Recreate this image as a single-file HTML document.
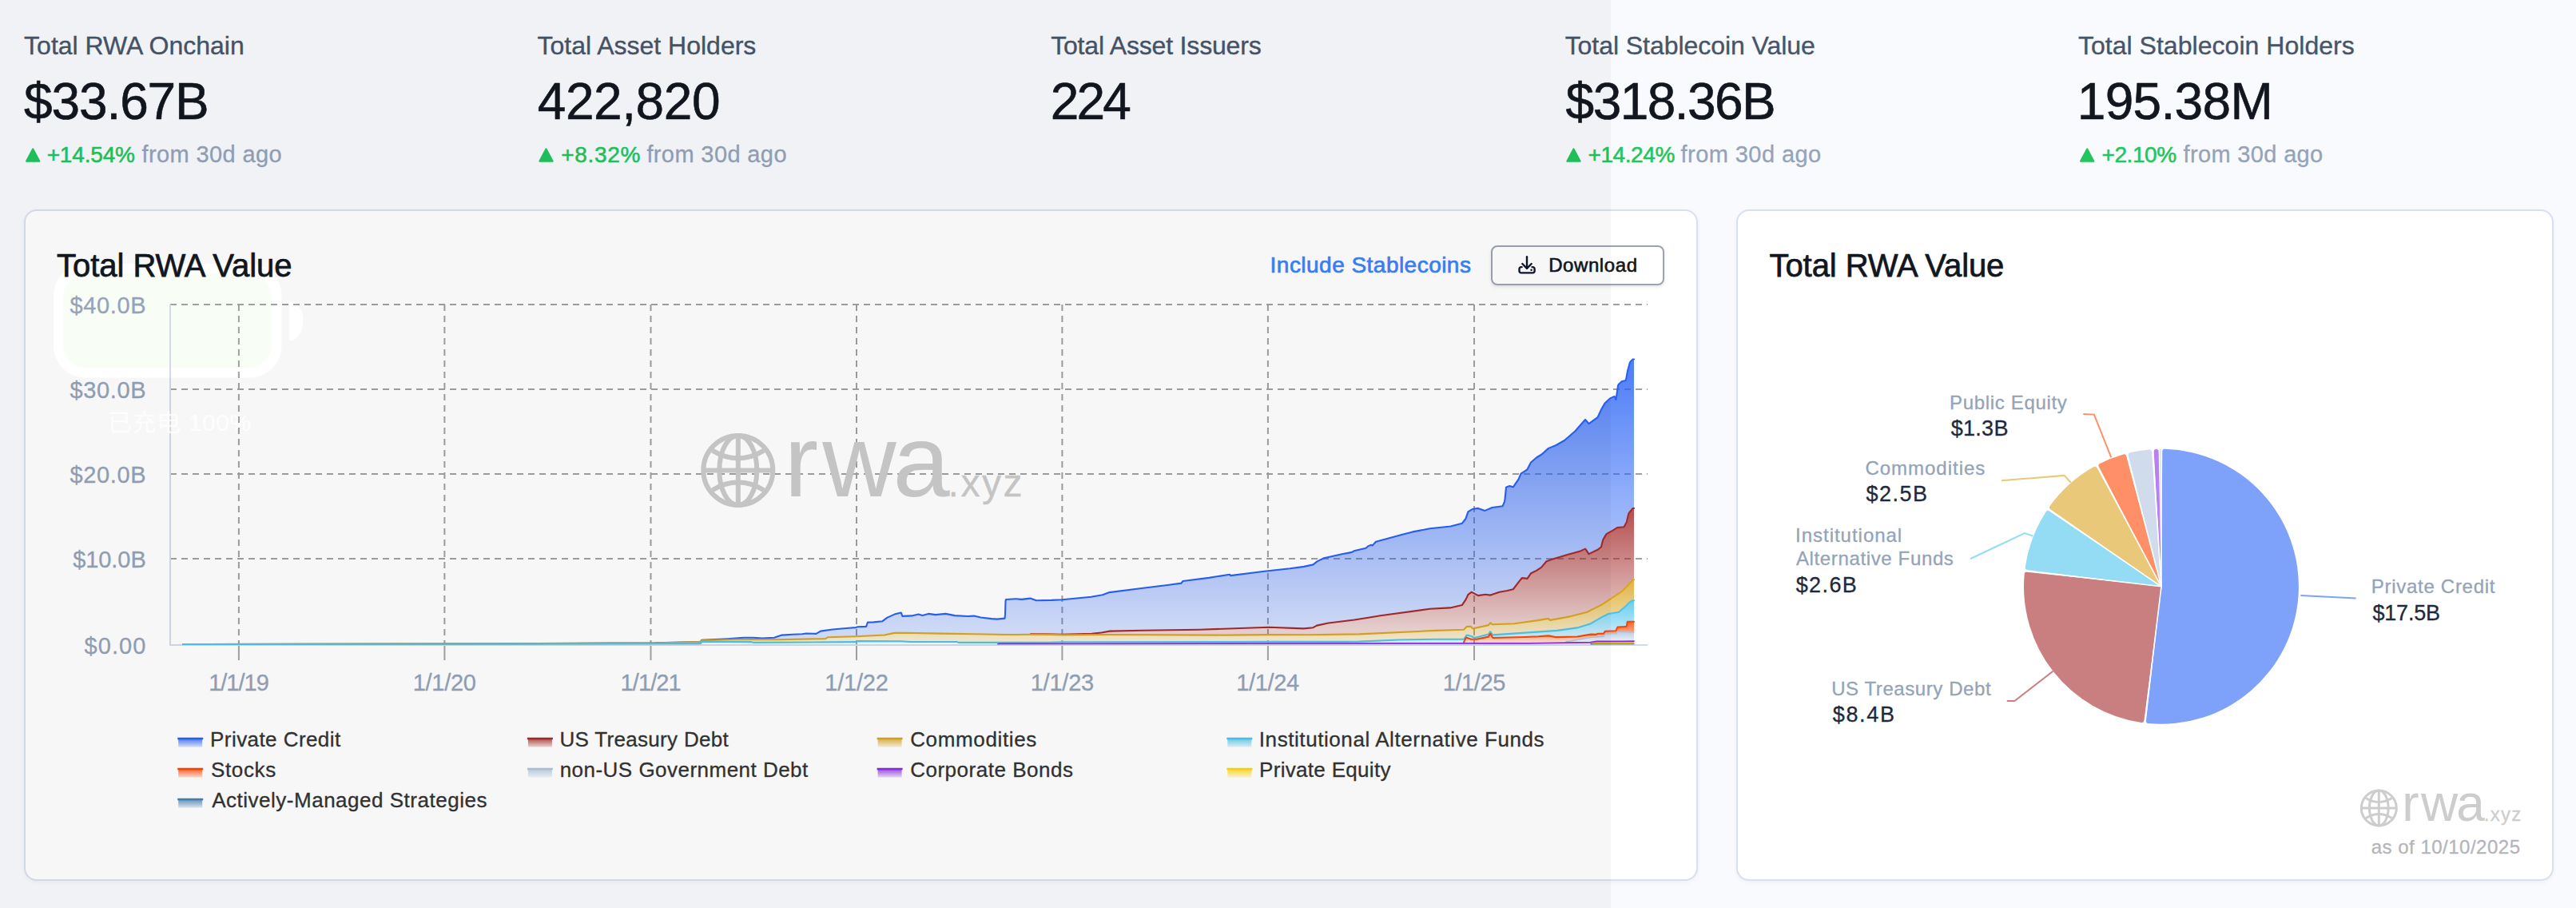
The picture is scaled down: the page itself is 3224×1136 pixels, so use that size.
<!DOCTYPE html>
<html lang="en"><head><meta charset="utf-8"><title>RWA dashboard</title>
<style>
html,body{margin:0;padding:0}
body{width:3224px;height:1136px;position:relative;overflow:hidden;background:#f9fafd;font-family:"Liberation Sans",sans-serif}
.t{position:absolute;white-space:nowrap;margin:0;padding:0}
.card{position:absolute;box-sizing:border-box;background:#fff;border:2px solid #d8dfee;border-radius:16px;box-shadow:0 2px 5px rgba(30,50,90,.05)}
svg{position:absolute;left:0;top:0;overflow:visible}
</style></head><body>

<div class="t" style="left:30.08px;top:41.11px;font-size:32px;line-height:32px;letter-spacing:0.001px;color:#475569;-webkit-text-stroke:0.35px #475569;">Total RWA Onchain</div>
<div class="t" style="left:30.11px;top:95.32px;font-size:64px;line-height:64px;letter-spacing:-1.129px;color:#12161f;-webkit-text-stroke:0.6px #12161f;">$33.67B</div>
<div class="t" style="left:58.63px;top:180.30px;font-size:28px;line-height:28px;letter-spacing:-0.159px;color:#22c55e;-webkit-text-stroke:0.55px #22c55e;">+14.54%</div>
<div class="t" style="left:177.59px;top:179.45px;font-size:29px;line-height:29px;letter-spacing:0.386px;color:#94a3b8;-webkit-text-stroke:0.3px #94a3b8;">from 30d ago</div>
<div class="t" style="left:672.48px;top:41.11px;font-size:32px;line-height:32px;letter-spacing:-0.002px;color:#475569;-webkit-text-stroke:0.35px #475569;">Total Asset Holders</div>
<div class="t" style="left:672.83px;top:95.32px;font-size:64px;line-height:64px;letter-spacing:-0.446px;color:#12161f;-webkit-text-stroke:0.6px #12161f;">422,820</div>
<div class="t" style="left:702.23px;top:180.30px;font-size:28px;line-height:28px;letter-spacing:0.664px;color:#22c55e;-webkit-text-stroke:0.55px #22c55e;">+8.32%</div>
<div class="t" style="left:809.39px;top:179.45px;font-size:29px;line-height:29px;letter-spacing:0.386px;color:#94a3b8;-webkit-text-stroke:0.3px #94a3b8;">from 30d ago</div>
<div class="t" style="left:1315.18px;top:41.11px;font-size:32px;line-height:32px;letter-spacing:-0.184px;color:#475569;-webkit-text-stroke:0.35px #475569;">Total Asset Issuers</div>
<div class="t" style="left:1314.78px;top:95.32px;font-size:64px;line-height:64px;letter-spacing:-2.844px;color:#12161f;-webkit-text-stroke:0.6px #12161f;">224</div>
<div class="t" style="left:1958.68px;top:41.11px;font-size:32px;line-height:32px;letter-spacing:-0.054px;color:#475569;-webkit-text-stroke:0.35px #475569;">Total Stablecoin Value</div>
<div class="t" style="left:1959.61px;top:95.32px;font-size:64px;line-height:64px;letter-spacing:-1.567px;color:#12161f;-webkit-text-stroke:0.6px #12161f;">$318.36B</div>
<div class="t" style="left:1987.53px;top:180.30px;font-size:28px;line-height:28px;letter-spacing:-0.425px;color:#22c55e;-webkit-text-stroke:0.55px #22c55e;">+14.24%</div>
<div class="t" style="left:2103.59px;top:179.45px;font-size:29px;line-height:29px;letter-spacing:0.431px;color:#94a3b8;-webkit-text-stroke:0.3px #94a3b8;">from 30d ago</div>
<div class="t" style="left:2600.88px;top:41.11px;font-size:32px;line-height:32px;letter-spacing:0.035px;color:#475569;-webkit-text-stroke:0.35px #475569;">Total Stablecoin Holders</div>
<div class="t" style="left:2599.82px;top:95.32px;font-size:64px;line-height:64px;letter-spacing:-0.690px;color:#12161f;-webkit-text-stroke:0.6px #12161f;">195.38M</div>
<div class="t" style="left:2630.43px;top:180.30px;font-size:28px;line-height:28px;letter-spacing:-0.396px;color:#22c55e;-webkit-text-stroke:0.55px #22c55e;">+2.10%</div>
<div class="t" style="left:2732.59px;top:179.45px;font-size:29px;line-height:29px;letter-spacing:0.340px;color:#94a3b8;-webkit-text-stroke:0.3px #94a3b8;">from 30d ago</div>
<div class="card" style="left:30px;top:262px;width:2095px;height:840px"></div>
<div class="card" style="left:2173px;top:262px;width:1023px;height:840px"></div>
<svg width="3224" height="1136" viewBox="0 0 3224 1136"><rect x="79" y="342" width="261" height="118.5" rx="30" fill="#f8fdf6"/></svg>
<svg width="3224" height="1136" viewBox="0 0 3224 1136">
<path d="M41.2 186.3 L49.4 201.8 L33.0 201.8 Z" fill="#22c55e" stroke="#22c55e" stroke-width="2" stroke-linejoin="round"/>
<path d="M683.5 186.3 L691.7 201.8 L675.3 201.8 Z" fill="#22c55e" stroke="#22c55e" stroke-width="2" stroke-linejoin="round"/>
<path d="M1969.5 186.3 L1977.7 201.8 L1961.3 201.8 Z" fill="#22c55e" stroke="#22c55e" stroke-width="2" stroke-linejoin="round"/>
<path d="M2612.2 186.3 L2620.4 201.8 L2604.0 201.8 Z" fill="#22c55e" stroke="#22c55e" stroke-width="2" stroke-linejoin="round"/>
<defs>
<linearGradient id="g_blue" x1="0" y1="0" x2="0" y2="1"><stop offset="5%" stop-color="#2862f5" stop-opacity="0.8"/><stop offset="95%" stop-color="#2862f5" stop-opacity="0.2"/></linearGradient>
<linearGradient id="g_red" x1="0" y1="0" x2="0" y2="1"><stop offset="5%" stop-color="#a52a2a" stop-opacity="0.8"/><stop offset="95%" stop-color="#a52a2a" stop-opacity="0.2"/></linearGradient>
<linearGradient id="g_yellow" x1="0" y1="0" x2="0" y2="1"><stop offset="5%" stop-color="#daa520" stop-opacity="0.8"/><stop offset="95%" stop-color="#daa520" stop-opacity="0.2"/></linearGradient>
<linearGradient id="g_cyan" x1="0" y1="0" x2="0" y2="1"><stop offset="5%" stop-color="#4cc4ec" stop-opacity="0.8"/><stop offset="95%" stop-color="#4cc4ec" stop-opacity="0.2"/></linearGradient>
<linearGradient id="g_orange" x1="0" y1="0" x2="0" y2="1"><stop offset="5%" stop-color="#ff4500" stop-opacity="0.8"/><stop offset="95%" stop-color="#ff4500" stop-opacity="0.2"/></linearGradient>
<linearGradient id="g_steel" x1="0" y1="0" x2="0" y2="1"><stop offset="5%" stop-color="#b0c4de" stop-opacity="0.8"/><stop offset="95%" stop-color="#b0c4de" stop-opacity="0.2"/></linearGradient>
<linearGradient id="g_purple" x1="0" y1="0" x2="0" y2="1"><stop offset="5%" stop-color="#8a2be2" stop-opacity="0.8"/><stop offset="95%" stop-color="#8a2be2" stop-opacity="0.2"/></linearGradient>
<linearGradient id="g_gold" x1="0" y1="0" x2="0" y2="1"><stop offset="5%" stop-color="#ffd700" stop-opacity="0.8"/><stop offset="95%" stop-color="#ffd700" stop-opacity="0.2"/></linearGradient>
<linearGradient id="g_sblue" x1="0" y1="0" x2="0" y2="1"><stop offset="5%" stop-color="#4682b4" stop-opacity="0.8"/><stop offset="95%" stop-color="#4682b4" stop-opacity="0.2"/></linearGradient>
</defs>
<line x1="213" y1="381" x2="2062" y2="381" stroke="#a0a0a0" stroke-width="2" stroke-dasharray="8 6"/>
<line x1="213" y1="487" x2="2062" y2="487" stroke="#a0a0a0" stroke-width="2" stroke-dasharray="8 6"/>
<line x1="213" y1="593" x2="2062" y2="593" stroke="#a0a0a0" stroke-width="2" stroke-dasharray="8 6"/>
<line x1="213" y1="699" x2="2062" y2="699" stroke="#a0a0a0" stroke-width="2" stroke-dasharray="8 6"/>
<line x1="298.9" y1="381" x2="298.9" y2="807" stroke="#a0a0a0" stroke-width="2" stroke-dasharray="8 6"/>
<line x1="298.9" y1="807" x2="298.9" y2="826" stroke="#a4a4a4" stroke-width="2"/>
<line x1="556.4" y1="381" x2="556.4" y2="807" stroke="#a0a0a0" stroke-width="2" stroke-dasharray="8 6"/>
<line x1="556.4" y1="807" x2="556.4" y2="826" stroke="#a4a4a4" stroke-width="2"/>
<line x1="814.5" y1="381" x2="814.5" y2="807" stroke="#a0a0a0" stroke-width="2" stroke-dasharray="8 6"/>
<line x1="814.5" y1="807" x2="814.5" y2="826" stroke="#a4a4a4" stroke-width="2"/>
<line x1="1072.0" y1="381" x2="1072.0" y2="807" stroke="#a0a0a0" stroke-width="2" stroke-dasharray="8 6"/>
<line x1="1072.0" y1="807" x2="1072.0" y2="826" stroke="#a4a4a4" stroke-width="2"/>
<line x1="1329.4" y1="381" x2="1329.4" y2="807" stroke="#a0a0a0" stroke-width="2" stroke-dasharray="8 6"/>
<line x1="1329.4" y1="807" x2="1329.4" y2="826" stroke="#a4a4a4" stroke-width="2"/>
<line x1="1586.9" y1="381" x2="1586.9" y2="807" stroke="#a0a0a0" stroke-width="2" stroke-dasharray="8 6"/>
<line x1="1586.9" y1="807" x2="1586.9" y2="826" stroke="#a4a4a4" stroke-width="2"/>
<line x1="1845.0" y1="381" x2="1845.0" y2="807" stroke="#a0a0a0" stroke-width="2" stroke-dasharray="8 6"/>
<line x1="1845.0" y1="807" x2="1845.0" y2="826" stroke="#a4a4a4" stroke-width="2"/>
<path d="M213 381 V807 H2062" fill="none" stroke="#d2d9ea" stroke-width="2"/>
<g fill="none" stroke="#cbcbcb" stroke-width="6"><circle cx="923.8" cy="588.4" r="43.5"/><ellipse cx="923.8" cy="588.4" rx="23.49" ry="43.5"/><line x1="923.8" y1="544.9" x2="923.8" y2="631.9"/><line x1="880.3" y1="588.4" x2="967.3" y2="588.4"/><path d="M891.61 563.61 Q923.8 583.18 955.99 563.61"/><path d="M891.61 613.19 Q923.8 593.62 955.99 613.19"/></g>
<text x="981.50" y="620.5" font-family='"Liberation Sans", sans-serif' font-size="128" fill="#cbcbcb">r<tspan dx="5">w</tspan><tspan dx="-4">a</tspan></text>
<text x="1186.62" y="620.5" font-family='"Liberation Sans", sans-serif' font-size="48" letter-spacing="2.479" fill="#cbcbcb" stroke="#cbcbcb" stroke-width="0.3">.xyz</text>
<path d="M229.0 806.0 L626.0 805.3 L820.5 804.4 L865.0 803.2 L877.0 803.1 L877.5 801.8 L878.0 800.9 L910.5 799.2 L930.5 797.8 L942.5 797.8 L954.0 798.5 L969.0 797.7 L978.5 794.6 L992.0 793.7 L1004.0 793.2 L1009.0 792.5 L1021.5 792.9 L1027.0 789.6 L1042.0 787.5 L1062.0 785.7 L1071.0 785.1 L1073.5 784.3 L1084.0 783.9 L1084.5 782.8 L1085.5 779.7 L1086.0 778.6 L1093.5 778.4 L1104.5 777.2 L1110.5 772.6 L1119.5 768.6 L1127.5 766.5 L1128.0 766.9 L1129.0 770.0 L1129.5 770.9 L1141.0 770.4 L1149.5 768.5 L1154.5 770.0 L1162.0 767.9 L1171.0 769.1 L1183.5 767.9 L1195.0 770.1 L1211.0 771.0 L1219.0 770.6 L1227.5 772.5 L1241.0 774.1 L1248.0 774.6 L1257.5 773.6 L1258.0 768.9 L1258.5 752.4 L1259.0 750.0 L1271.5 749.2 L1278.5 749.9 L1289.5 748.6 L1297.0 751.2 L1316.0 750.9 L1329.5 750.3 L1365.5 746.8 L1380.0 744.2 L1388.5 741.1 L1430.5 735.7 L1463.0 731.8 L1478.5 729.6 L1480.5 727.0 L1513.0 722.9 L1539.0 718.7 L1540.0 720.1 L1582.5 714.7 L1614.5 711.3 L1632.0 708.9 L1643.5 706.4 L1648.5 702.4 L1657.0 698.2 L1679.5 693.3 L1692.0 690.9 L1694.5 689.3 L1709.5 685.7 L1712.0 683.4 L1716.0 681.8 L1716.5 681.8 L1717.5 682.5 L1719.0 681.0 L1722.0 677.7 L1756.0 668.6 L1768.0 665.4 L1789.5 661.3 L1815.5 658.5 L1830.0 654.7 L1834.0 649.5 L1834.5 648.7 L1837.5 640.2 L1843.5 636.7 L1850.0 635.9 L1858.5 638.9 L1867.5 635.0 L1880.5 633.2 L1881.5 631.2 L1883.0 627.7 L1883.5 624.6 L1885.0 609.6 L1886.5 609.0 L1889.5 608.1 L1893.5 609.3 L1894.0 609.2 L1900.5 599.6 L1903.5 592.7 L1911.5 587.3 L1916.0 578.5 L1923.0 572.5 L1929.5 568.5 L1938.0 560.9 L1947.5 557.0 L1958.0 551.0 L1971.5 539.2 L1984.0 525.0 L1984.5 525.3 L1988.5 530.1 L1999.5 522.2 L2004.0 512.4 L2008.5 504.5 L2015.0 498.4 L2020.5 495.9 L2021.0 496.5 L2022.0 499.0 L2022.5 499.9 L2025.0 482.4 L2025.5 481.3 L2029.5 477.3 L2034.5 476.0 L2035.0 474.9 L2037.0 464.1 L2040.0 453.4 L2041.0 452.1 L2043.5 449.6 L2045.0 449.5 L2045.0 635.9 L2043.5 636.0 L2038.5 642.2 L2038.0 643.8 L2036.0 652.2 L2035.5 653.8 L2032.5 659.2 L2024.0 660.1 L2018.5 663.6 L2010.5 668.1 L2006.5 674.9 L2006.0 676.2 L2004.0 684.2 L2000.0 687.5 L1988.5 693.1 L1985.0 687.8 L1984.0 686.6 L1978.0 689.4 L1962.5 693.7 L1942.5 699.8 L1935.5 702.2 L1929.0 709.9 L1923.0 713.9 L1916.0 717.3 L1911.5 723.9 L1905.0 723.1 L1904.5 723.5 L1901.5 727.1 L1894.0 737.0 L1893.5 737.3 L1886.5 739.0 L1876.5 740.7 L1865.5 744.6 L1859.0 743.8 L1850.0 745.1 L1842.0 740.8 L1841.5 740.9 L1837.5 743.8 L1834.5 750.1 L1830.0 756.9 L1815.0 760.4 L1789.5 761.8 L1727.5 770.3 L1712.5 772.8 L1695.0 775.5 L1662.5 779.5 L1648.0 782.6 L1643.5 785.2 L1631.5 786.4 L1588.0 784.8 L1501.0 787.7 L1430.5 788.7 L1389.0 789.6 L1378.5 791.5 L1366.5 792.7 L1328.5 793.9 L1309.0 793.2 L1282.5 793.4 L1250.0 793.5 L1191.5 792.6 L1131.5 791.7 L1119.5 791.9 L1107.0 794.5 L1071.0 796.2 L1036.0 797.3 L1033.0 799.1 L973.5 800.2 L941.0 800.1 L916.5 800.2 L878.0 801.2 L877.5 802.0 L877.0 803.1 L864.5 803.2 L819.5 804.6 L629.0 805.5 L229.0 806.0 Z" fill="url(#g_blue)" stroke="none"/>
<path d="M229.0 806.0 L626.0 805.3 L820.5 804.4 L865.0 803.2 L877.0 803.1 L877.5 801.8 L878.0 800.9 L910.5 799.2 L930.5 797.8 L942.5 797.8 L954.0 798.5 L969.0 797.7 L978.5 794.6 L992.0 793.7 L1004.0 793.2 L1009.0 792.5 L1021.5 792.9 L1027.0 789.6 L1042.0 787.5 L1062.0 785.7 L1071.0 785.1 L1073.5 784.3 L1084.0 783.9 L1084.5 782.8 L1085.5 779.7 L1086.0 778.6 L1093.5 778.4 L1104.5 777.2 L1110.5 772.6 L1119.5 768.6 L1127.5 766.5 L1128.0 766.9 L1129.0 770.0 L1129.5 770.9 L1141.0 770.4 L1149.5 768.5 L1154.5 770.0 L1162.0 767.9 L1171.0 769.1 L1183.5 767.9 L1195.0 770.1 L1211.0 771.0 L1219.0 770.6 L1227.5 772.5 L1241.0 774.1 L1248.0 774.6 L1257.5 773.6 L1258.0 768.9 L1258.5 752.4 L1259.0 750.0 L1271.5 749.2 L1278.5 749.9 L1289.5 748.6 L1297.0 751.2 L1316.0 750.9 L1329.5 750.3 L1365.5 746.8 L1380.0 744.2 L1388.5 741.1 L1430.5 735.7 L1463.0 731.8 L1478.5 729.6 L1480.5 727.0 L1513.0 722.9 L1539.0 718.7 L1540.0 720.1 L1582.5 714.7 L1614.5 711.3 L1632.0 708.9 L1643.5 706.4 L1648.5 702.4 L1657.0 698.2 L1679.5 693.3 L1692.0 690.9 L1694.5 689.3 L1709.5 685.7 L1712.0 683.4 L1716.0 681.8 L1716.5 681.8 L1717.5 682.5 L1719.0 681.0 L1722.0 677.7 L1756.0 668.6 L1768.0 665.4 L1789.5 661.3 L1815.5 658.5 L1830.0 654.7 L1834.0 649.5 L1834.5 648.7 L1837.5 640.2 L1843.5 636.7 L1850.0 635.9 L1858.5 638.9 L1867.5 635.0 L1880.5 633.2 L1881.5 631.2 L1883.0 627.7 L1883.5 624.6 L1885.0 609.6 L1886.5 609.0 L1889.5 608.1 L1893.5 609.3 L1894.0 609.2 L1900.5 599.6 L1903.5 592.7 L1911.5 587.3 L1916.0 578.5 L1923.0 572.5 L1929.5 568.5 L1938.0 560.9 L1947.5 557.0 L1958.0 551.0 L1971.5 539.2 L1984.0 525.0 L1984.5 525.3 L1988.5 530.1 L1999.5 522.2 L2004.0 512.4 L2008.5 504.5 L2015.0 498.4 L2020.5 495.9 L2021.0 496.5 L2022.0 499.0 L2022.5 499.9 L2025.0 482.4 L2025.5 481.3 L2029.5 477.3 L2034.5 476.0 L2035.0 474.9 L2037.0 464.1 L2040.0 453.4 L2041.0 452.1 L2043.5 449.6 L2045.0 449.5" fill="none" stroke="#2862f5" stroke-width="2.1" stroke-linejoin="round" stroke-linecap="round"/>
<path d="M1290.0 793.3 L1309.0 793.2 L1328.5 793.9 L1366.5 792.7 L1378.5 791.5 L1389.0 789.6 L1430.5 788.7 L1501.0 787.7 L1588.0 784.8 L1631.5 786.4 L1643.5 785.2 L1648.0 782.6 L1662.5 779.5 L1695.0 775.5 L1712.5 772.8 L1727.5 770.3 L1789.5 761.8 L1815.0 760.4 L1830.0 756.9 L1834.5 750.1 L1837.5 743.8 L1841.5 740.9 L1842.0 740.8 L1850.0 745.1 L1859.0 743.8 L1865.5 744.6 L1876.5 740.7 L1886.5 739.0 L1893.5 737.3 L1894.0 737.0 L1901.5 727.1 L1904.5 723.5 L1905.0 723.1 L1911.5 723.9 L1916.0 717.3 L1923.0 713.9 L1929.0 709.9 L1935.5 702.2 L1942.5 699.8 L1962.5 693.7 L1978.0 689.4 L1984.0 686.6 L1985.0 687.8 L1988.5 693.1 L2000.0 687.5 L2004.0 684.2 L2006.0 676.2 L2006.5 674.9 L2010.5 668.1 L2018.5 663.6 L2024.0 660.1 L2032.5 659.2 L2035.5 653.8 L2036.0 652.2 L2038.0 643.8 L2038.5 642.2 L2043.5 636.0 L2045.0 635.9 L2045.0 725.3 L2043.5 725.4 L2040.0 729.6 L2030.5 739.3 L2004.5 756.6 L1986.5 765.7 L1966.0 771.1 L1940.0 775.9 L1938.0 773.9 L1924.5 776.1 L1895.0 780.2 L1867.5 781.2 L1865.5 779.3 L1865.0 779.3 L1863.0 782.1 L1844.0 786.3 L1843.0 786.3 L1841.0 783.9 L1837.0 783.9 L1835.5 784.1 L1832.0 787.8 L1797.0 788.9 L1701.0 793.4 L1638.5 794.3 L1586.5 794.1 L1530.0 794.6 L1387.5 794.0 L1330.5 794.4 L1310.5 793.9 L1290.0 793.9 Z" fill="url(#g_red)" stroke="none"/>
<path d="M1290.0 793.3 L1309.0 793.2 L1328.5 793.9 L1366.5 792.7 L1378.5 791.5 L1389.0 789.6 L1430.5 788.7 L1501.0 787.7 L1588.0 784.8 L1631.5 786.4 L1643.5 785.2 L1648.0 782.6 L1662.5 779.5 L1695.0 775.5 L1712.5 772.8 L1727.5 770.3 L1789.5 761.8 L1815.0 760.4 L1830.0 756.9 L1834.5 750.1 L1837.5 743.8 L1841.5 740.9 L1842.0 740.8 L1850.0 745.1 L1859.0 743.8 L1865.5 744.6 L1876.5 740.7 L1886.5 739.0 L1893.5 737.3 L1894.0 737.0 L1901.5 727.1 L1904.5 723.5 L1905.0 723.1 L1911.5 723.9 L1916.0 717.3 L1923.0 713.9 L1929.0 709.9 L1935.5 702.2 L1942.5 699.8 L1962.5 693.7 L1978.0 689.4 L1984.0 686.6 L1985.0 687.8 L1988.5 693.1 L2000.0 687.5 L2004.0 684.2 L2006.0 676.2 L2006.5 674.9 L2010.5 668.1 L2018.5 663.6 L2024.0 660.1 L2032.5 659.2 L2035.5 653.8 L2036.0 652.2 L2038.0 643.8 L2038.5 642.2 L2043.5 636.0 L2045.0 635.9" fill="none" stroke="#a52a2a" stroke-width="2.1" stroke-linejoin="round" stroke-linecap="round"/>
<path d="M229.0 806.0 L629.0 805.5 L819.5 804.6 L864.5 803.2 L877.0 803.1 L877.5 802.0 L878.0 801.2 L916.5 800.2 L941.0 800.1 L973.5 800.2 L1033.0 799.1 L1036.0 797.3 L1071.0 796.2 L1107.0 794.5 L1119.5 791.9 L1131.0 791.7 L1178.0 792.6 L1218.5 793.3 L1260.0 794.0 L1296.5 793.8 L1311.5 793.9 L1330.5 794.4 L1387.5 794.0 L1530.0 794.6 L1586.5 794.1 L1638.5 794.3 L1701.0 793.4 L1797.0 788.9 L1832.0 787.8 L1835.5 784.1 L1837.0 783.9 L1841.0 783.9 L1843.0 786.3 L1844.0 786.3 L1863.0 782.1 L1865.0 779.3 L1865.5 779.3 L1867.5 781.2 L1895.0 780.2 L1924.5 776.1 L1938.0 773.9 L1940.0 775.9 L1966.0 771.1 L1986.5 765.7 L2004.5 756.6 L2030.5 739.3 L2040.0 729.6 L2043.5 725.4 L2045.0 725.3 L2045.0 751.3 L2043.5 751.3 L2039.0 753.7 L2035.0 758.1 L2026.0 765.8 L2013.0 768.0 L2005.5 771.7 L1991.0 780.2 L1974.0 785.4 L1949.0 788.9 L1868.5 794.4 L1868.0 794.0 L1865.5 790.5 L1865.0 790.4 L1863.0 793.6 L1845.5 797.9 L1841.5 796.0 L1836.0 794.5 L1835.5 794.7 L1833.0 798.5 L1832.0 799.7 L1797.5 799.7 L1750.5 800.5 L1700.5 802.6 L1680.5 802.9 L1597.0 802.9 L1542.0 803.1 L1332.5 803.3 L1311.0 803.8 L1199.5 803.9 L1197.5 803.0 L1138.5 803.0 L1129.0 802.3 L1073.0 802.1 L1071.0 803.1 L942.5 803.9 L940.5 803.1 L878.0 802.7 L877.0 805.0 L873.5 805.1 L840.0 805.3 L229.0 806.0 Z" fill="url(#g_yellow)" stroke="none"/>
<path d="M229.0 806.0 L629.0 805.5 L819.5 804.6 L864.5 803.2 L877.0 803.1 L877.5 802.0 L878.0 801.2 L916.5 800.2 L941.0 800.1 L973.5 800.2 L1033.0 799.1 L1036.0 797.3 L1071.0 796.2 L1107.0 794.5 L1119.5 791.9 L1131.0 791.7 L1178.0 792.6 L1218.5 793.3 L1260.0 794.0 L1296.5 793.8 L1311.5 793.9 L1330.5 794.4 L1387.5 794.0 L1530.0 794.6 L1586.5 794.1 L1638.5 794.3 L1701.0 793.4 L1797.0 788.9 L1832.0 787.8 L1835.5 784.1 L1837.0 783.9 L1841.0 783.9 L1843.0 786.3 L1844.0 786.3 L1863.0 782.1 L1865.0 779.3 L1865.5 779.3 L1867.5 781.2 L1895.0 780.2 L1924.5 776.1 L1938.0 773.9 L1940.0 775.9 L1966.0 771.1 L1986.5 765.7 L2004.5 756.6 L2030.5 739.3 L2040.0 729.6 L2043.5 725.4 L2045.0 725.3" fill="none" stroke="#daa520" stroke-width="2.1" stroke-linejoin="round" stroke-linecap="round"/>
<path d="M229.0 806.0 L840.0 805.3 L873.5 805.1 L877.0 805.0 L878.0 802.7 L940.5 803.1 L942.5 803.9 L1071.0 803.1 L1073.0 802.1 L1129.0 802.3 L1138.5 803.0 L1197.5 803.0 L1199.5 803.9 L1311.0 803.8 L1332.5 803.3 L1542.0 803.1 L1597.0 802.9 L1680.5 802.9 L1700.5 802.6 L1750.5 800.5 L1797.5 799.7 L1832.0 799.7 L1833.0 798.5 L1835.5 794.7 L1836.0 794.5 L1841.5 796.0 L1845.5 797.9 L1863.0 793.6 L1865.0 790.4 L1865.5 790.5 L1868.0 794.0 L1868.5 794.4 L1949.0 788.9 L1974.0 785.4 L1991.0 780.2 L2005.5 771.7 L2013.0 768.0 L2026.0 765.8 L2035.0 758.1 L2039.0 753.7 L2043.5 751.3 L2045.0 751.3 L2045.0 777.7 L2037.0 777.7 L2036.5 778.9 L2036.0 782.9 L2035.5 783.9 L2024.5 784.6 L2024.0 785.4 L2022.5 789.0 L2022.0 789.3 L2009.0 789.7 L2007.0 792.7 L2000.0 792.8 L1997.0 793.9 L1991.0 793.6 L1974.0 796.5 L1947.0 797.1 L1938.0 795.4 L1925.5 796.3 L1908.5 797.0 L1868.5 798.0 L1868.0 797.5 L1865.5 793.2 L1865.0 793.0 L1863.0 796.6 L1848.0 799.7 L1841.0 799.7 L1835.0 797.6 L1834.5 798.2 L1832.5 802.4 L1832.0 804.0 L885.0 805.0 L864.5 805.5 L229.0 806.0 Z" fill="url(#g_cyan)" stroke="none"/>
<path d="M229.0 806.0 L840.0 805.3 L873.5 805.1 L877.0 805.0 L878.0 802.7 L940.5 803.1 L942.5 803.9 L1071.0 803.1 L1073.0 802.1 L1129.0 802.3 L1138.5 803.0 L1197.5 803.0 L1199.5 803.9 L1311.0 803.8 L1332.5 803.3 L1542.0 803.1 L1597.0 802.9 L1680.5 802.9 L1700.5 802.6 L1750.5 800.5 L1797.5 799.7 L1832.0 799.7 L1833.0 798.5 L1835.5 794.7 L1836.0 794.5 L1841.5 796.0 L1845.5 797.9 L1863.0 793.6 L1865.0 790.4 L1865.5 790.5 L1868.0 794.0 L1868.5 794.4 L1949.0 788.9 L1974.0 785.4 L1991.0 780.2 L2005.5 771.7 L2013.0 768.0 L2026.0 765.8 L2035.0 758.1 L2039.0 753.7 L2043.5 751.3 L2045.0 751.3" fill="none" stroke="#4cc4ec" stroke-width="2.1" stroke-linejoin="round" stroke-linecap="round"/>
<path d="M1832.0 804.0 L1832.5 802.4 L1834.5 798.2 L1835.0 797.6 L1841.0 799.7 L1848.0 799.7 L1863.0 796.6 L1865.0 793.0 L1865.5 793.2 L1868.0 797.5 L1868.5 798.0 L1908.5 797.0 L1925.5 796.3 L1938.0 795.4 L1947.0 797.1 L1974.0 796.5 L1991.0 793.6 L1997.0 793.9 L2000.0 792.8 L2007.0 792.7 L2009.0 789.7 L2022.0 789.3 L2022.5 789.0 L2024.0 785.4 L2024.5 784.6 L2035.5 783.9 L2036.0 782.9 L2036.5 778.9 L2037.0 777.7 L2045.0 777.7 L2045.0 791.2 L2025.0 790.4 L2024.5 790.7 L2024.0 791.5 L2023.0 792.7 L2009.0 793.1 L2007.0 796.5 L1991.0 797.4 L1964.5 802.3 L1905.5 804.1 L1832.0 804.3 Z" fill="url(#g_orange)" stroke="none"/>
<path d="M1832.0 804.0 L1832.5 802.4 L1834.5 798.2 L1835.0 797.6 L1841.0 799.7 L1848.0 799.7 L1863.0 796.6 L1865.0 793.0 L1865.5 793.2 L1868.0 797.5 L1868.5 798.0 L1908.5 797.0 L1925.5 796.3 L1938.0 795.4 L1947.0 797.1 L1974.0 796.5 L1991.0 793.6 L1997.0 793.9 L2000.0 792.8 L2007.0 792.7 L2009.0 789.7 L2022.0 789.3 L2022.5 789.0 L2024.0 785.4 L2024.5 784.6 L2035.5 783.9 L2036.0 782.9 L2036.5 778.9 L2037.0 777.7 L2045.0 777.7" fill="none" stroke="#ff4500" stroke-width="2.1" stroke-linejoin="round" stroke-linecap="round"/>
<path d="M1960.0 802.5 L1965.0 802.2 L1991.0 797.4 L2007.0 796.5 L2009.0 793.1 L2023.0 792.7 L2024.0 791.5 L2024.5 790.7 L2025.0 790.4 L2045.0 791.2 L2045.0 802.2 L1998.5 802.4 L1990.5 803.7 L1960.0 804.2 Z" fill="url(#g_steel)" stroke="none"/>
<path d="M1960.0 802.5 L1965.0 802.2 L1991.0 797.4 L2007.0 796.5 L2009.0 793.1 L2023.0 792.7 L2024.0 791.5 L2024.5 790.7 L2025.0 790.4 L2045.0 791.2" fill="none" stroke="#b0c4de" stroke-width="1.4" stroke-linejoin="round" stroke-linecap="round"/>
<path d="M1249.0 805.7 L1250.5 805.3 L1911.5 804.8 L1990.5 803.7 L1998.5 802.4 L2045.0 802.2 L2045.0 804.6 L1996.0 804.6 L1990.5 805.4 L1249.0 805.7 Z" fill="url(#g_purple)" stroke="none"/>
<path d="M1249.0 805.7 L1250.5 805.3 L1911.5 804.8 L1990.5 803.7 L1998.5 802.4 L2045.0 802.2" fill="none" stroke="#8a2be2" stroke-width="1.7" stroke-linejoin="round" stroke-linecap="round"/>
<path d="M1993.0 805.0 L1996.0 804.6 L2045.0 804.6 L2045.0 805.6 L1993.0 805.6 Z" fill="url(#g_gold)" stroke="none"/>
<path d="M1993.0 805.0 L1996.0 804.6 L2045.0 804.6" fill="none" stroke="#ffd700" stroke-width="1.4" stroke-linejoin="round" stroke-linecap="round"/>
<path d="M1991.0 805.8 L1995.0 805.6 L2045.0 805.6 L2045.0 806.0 L1991.0 806.0 Z" fill="url(#g_sblue)" stroke="none"/>
<path d="M1991.0 805.8 L1995.0 805.6 L2045.0 805.6" fill="none" stroke="#4682b4" stroke-width="1.4" stroke-linejoin="round" stroke-linecap="round"/>
<text x="87.39" y="391.7" font-family='"Liberation Sans", sans-serif' font-size="29" letter-spacing="0.685" fill="#94a3b8" stroke="#94a3b8" stroke-width="0.3">$40.0B</text>
<text x="87.39" y="497.8" font-family='"Liberation Sans", sans-serif' font-size="29" letter-spacing="0.685" fill="#94a3b8" stroke="#94a3b8" stroke-width="0.3">$30.0B</text>
<text x="87.39" y="603.6" font-family='"Liberation Sans", sans-serif' font-size="29" letter-spacing="0.685" fill="#94a3b8" stroke="#94a3b8" stroke-width="0.3">$20.0B</text>
<text x="91.19" y="709.6" font-family='"Liberation Sans", sans-serif' font-size="29" letter-spacing="-0.075" fill="#94a3b8" stroke="#94a3b8" stroke-width="0.3">$10.0B</text>
<text x="105.59" y="817.6" font-family='"Liberation Sans", sans-serif' font-size="29" letter-spacing="1.043" fill="#94a3b8" stroke="#94a3b8" stroke-width="0.3">$0.00</text>
<text x="261.19" y="864.3" font-family='"Liberation Sans", sans-serif' font-size="29" letter-spacing="-1.009" fill="#94a3b8" stroke="#94a3b8" stroke-width="0.3">1/1/19</text>
<text x="516.64" y="864.3" font-family='"Liberation Sans", sans-serif' font-size="29" letter-spacing="-0.257" fill="#94a3b8" stroke="#94a3b8" stroke-width="0.3">1/1/20</text>
<text x="776.49" y="864.3" font-family='"Liberation Sans", sans-serif' font-size="29" letter-spacing="-0.881" fill="#94a3b8" stroke="#94a3b8" stroke-width="0.3">1/1/21</text>
<text x="1032.25" y="864.3" font-family='"Liberation Sans", sans-serif' font-size="29" letter-spacing="-0.192" fill="#94a3b8" stroke="#94a3b8" stroke-width="0.3">1/1/22</text>
<text x="1289.69" y="864.3" font-family='"Liberation Sans", sans-serif' font-size="29" letter-spacing="-0.229" fill="#94a3b8" stroke="#94a3b8" stroke-width="0.3">1/1/23</text>
<text x="1547.15" y="864.3" font-family='"Liberation Sans", sans-serif' font-size="29" letter-spacing="-0.314" fill="#94a3b8" stroke="#94a3b8" stroke-width="0.3">1/1/24</text>
<text x="1805.69" y="864.3" font-family='"Liberation Sans", sans-serif' font-size="29" letter-spacing="-0.400" fill="#94a3b8" stroke="#94a3b8" stroke-width="0.3">1/1/25</text>
<rect x="223.2" y="924" width="30" height="10.5" fill="url(#g_blue)"/>
<line x1="222.2" y1="924" x2="254.2" y2="924" stroke="#2862f5" stroke-width="2.4"/>
<text x="263.07" y="934.1" font-family='"Liberation Sans", sans-serif' font-size="26" letter-spacing="0.433" fill="#333333" stroke="#333333" stroke-width="0.3">Private Credit</text>
<rect x="660.9" y="924" width="30" height="10.5" fill="url(#g_red)"/>
<line x1="659.9" y1="924" x2="691.9" y2="924" stroke="#a52a2a" stroke-width="2.4"/>
<text x="700.39" y="934.1" font-family='"Liberation Sans", sans-serif' font-size="26" letter-spacing="0.318" fill="#333333" stroke="#333333" stroke-width="0.3">US Treasury Debt</text>
<rect x="1098.6" y="924" width="30" height="10.5" fill="url(#g_yellow)"/>
<line x1="1097.6" y1="924" x2="1129.6" y2="924" stroke="#daa520" stroke-width="2.4"/>
<text x="1139.18" y="934.1" font-family='"Liberation Sans", sans-serif' font-size="26" letter-spacing="0.645" fill="#333333" stroke="#333333" stroke-width="0.3">Commodities</text>
<rect x="1536.3" y="924" width="30" height="10.5" fill="url(#g_cyan)"/>
<line x1="1535.3" y1="924" x2="1567.3" y2="924" stroke="#4cc4ec" stroke-width="2.4"/>
<text x="1575.80" y="934.1" font-family='"Liberation Sans", sans-serif' font-size="26" letter-spacing="0.573" fill="#333333" stroke="#333333" stroke-width="0.3">Institutional Alternative Funds</text>
<rect x="223.2" y="962" width="30" height="10.5" fill="url(#g_orange)"/>
<line x1="222.2" y1="962" x2="254.2" y2="962" stroke="#ff4500" stroke-width="2.4"/>
<text x="264.02" y="972.1" font-family='"Liberation Sans", sans-serif' font-size="26" letter-spacing="0.619" fill="#333333" stroke="#333333" stroke-width="0.3">Stocks</text>
<rect x="660.9" y="962" width="30" height="10.5" fill="url(#g_steel)"/>
<line x1="659.9" y1="962" x2="691.9" y2="962" stroke="#b0c4de" stroke-width="2.4"/>
<text x="700.67" y="972.1" font-family='"Liberation Sans", sans-serif' font-size="26" letter-spacing="0.478" fill="#333333" stroke="#333333" stroke-width="0.3">non-US Government Debt</text>
<rect x="1098.6" y="962" width="30" height="10.5" fill="url(#g_purple)"/>
<line x1="1097.6" y1="962" x2="1129.6" y2="962" stroke="#8a2be2" stroke-width="2.4"/>
<text x="1139.18" y="972.1" font-family='"Liberation Sans", sans-serif' font-size="26" letter-spacing="0.514" fill="#333333" stroke="#333333" stroke-width="0.3">Corporate Bonds</text>
<rect x="1536.3" y="962" width="30" height="10.5" fill="url(#g_gold)"/>
<line x1="1535.3" y1="962" x2="1567.3" y2="962" stroke="#ffd700" stroke-width="2.4"/>
<text x="1576.07" y="972.1" font-family='"Liberation Sans", sans-serif' font-size="26" letter-spacing="0.306" fill="#333333" stroke="#333333" stroke-width="0.3">Private Equity</text>
<rect x="223.2" y="1000" width="30" height="10.5" fill="url(#g_sblue)"/>
<line x1="222.2" y1="1000" x2="254.2" y2="1000" stroke="#4682b4" stroke-width="2.4"/>
<text x="265.15" y="1010.1" font-family='"Liberation Sans", sans-serif' font-size="26" letter-spacing="0.513" fill="#333333" stroke="#333333" stroke-width="0.3">Actively-Managed Strategies</text>
<path d="M2705 733.8 L2706.28 564.80 Q2706.30 561.80 2709.30 561.85 A172.0 172.0 0 1 1 2688.61 905.02 Q2685.63 904.71 2685.97 901.72 Z" fill="#2862f5" fill-opacity="0.6"/>
<path d="M2705 733.8 L2683.43 901.42 Q2683.05 904.39 2680.07 903.98 A172.0 172.0 0 0 1 2533.70 718.31 Q2534.00 715.32 2536.98 715.65 Z" fill="#a52a2a" fill-opacity="0.6"/>
<path d="M2705 733.8 L2537.27 713.11 Q2534.29 712.74 2534.69 709.77 A172.0 172.0 0 0 1 2560.70 640.20 Q2562.35 637.70 2564.84 639.38 Z" fill="#4cc4ec" fill-opacity="0.6"/>
<path d="M2705 733.8 L2566.28 637.27 Q2563.82 635.56 2565.55 633.11 A172.0 172.0 0 0 1 2620.48 584.00 Q2623.11 582.55 2624.53 585.19 Z" fill="#daa520" fill-opacity="0.6"/>
<path d="M2705 733.8 L2626.79 583.99 Q2625.40 581.33 2628.07 579.96 A172.0 172.0 0 0 1 2657.50 568.49 Q2660.39 567.69 2661.17 570.58 Z" fill="#ff4500" fill-opacity="0.6"/>
<path d="M2705 733.8 L2663.64 569.94 Q2662.90 567.03 2665.82 566.32 A172.0 172.0 0 0 1 2689.91 562.46 Q2692.90 562.23 2693.11 565.22 Z" fill="#b0c4de" fill-opacity="0.6"/>
<path d="M2705 733.8 L2695.66 565.06 Q2695.50 562.06 2698.49 561.92 A172.0 172.0 0 0 1 2698.60 561.92 Q2701.60 561.83 2701.66 564.83 Z" fill="#8a2be2" fill-opacity="0.6"/>
<line x1="2705" y1="733.8" x2="2703.57" y2="561.81" stroke="#ffd700" stroke-opacity="0.6" stroke-width="1.2"/>
<line x1="2705" y1="733.8" x2="2704.62" y2="561.80" stroke="#4682b4" stroke-opacity="0.6" stroke-width="1.2"/>
<line x1="2705" y1="733.8" x2="2705.00" y2="560.80" stroke="#fff" stroke-width="1.6"/>
<line x1="2705" y1="733.8" x2="2684.22" y2="905.55" stroke="#fff" stroke-width="1.6"/>
<line x1="2705" y1="733.8" x2="2533.15" y2="713.92" stroke="#fff" stroke-width="1.6"/>
<line x1="2705" y1="733.8" x2="2562.26" y2="636.06" stroke="#fff" stroke-width="1.6"/>
<line x1="2705" y1="733.8" x2="2623.78" y2="581.05" stroke="#fff" stroke-width="1.6"/>
<line x1="2705" y1="733.8" x2="2661.39" y2="566.39" stroke="#fff" stroke-width="1.6"/>
<line x1="2705" y1="733.8" x2="2694.14" y2="561.14" stroke="#fff" stroke-width="1.6"/>
<path d="M2879.3 745.0 L2948.6 748.6" fill="none" stroke="#2862f5" stroke-opacity="0.6" stroke-width="2"/>
<path d="M2511.8 877.0 L2521.3 877.0 L2569.4 839.8" fill="none" stroke="#a52a2a" stroke-opacity="0.6" stroke-width="2"/>
<path d="M2466.2 699.0 L2533.9 667.0 L2544.5 670.6" fill="none" stroke="#4cc4ec" stroke-opacity="0.6" stroke-width="2"/>
<path d="M2504.9 601.2 L2583.5 594.9 L2591.8 603.8" fill="none" stroke="#daa520" stroke-opacity="0.6" stroke-width="2"/>
<path d="M2607.3 517.9 L2620.9 518.6 L2642.3 572.4" fill="none" stroke="#ff4500" stroke-opacity="0.6" stroke-width="2"/>
<text x="2440.03" y="512.3" font-family='"Liberation Sans", sans-serif' font-size="24" letter-spacing="0.673" fill="#94a3b8" stroke="#94a3b8" stroke-width="0.3">Public Equity</text>
<text x="2441.71" y="545.3" font-family='"Liberation Sans", sans-serif' font-size="27" letter-spacing="0.289" fill="#1e293b" stroke="#1e293b" stroke-width="0.3">$1.3B</text>
<text x="2334.48" y="594.0" font-family='"Liberation Sans", sans-serif' font-size="24" letter-spacing="0.975" fill="#94a3b8" stroke="#94a3b8" stroke-width="0.3">Commodities</text>
<text x="2335.41" y="627.0" font-family='"Liberation Sans", sans-serif' font-size="27" letter-spacing="1.539" fill="#1e293b" stroke="#1e293b" stroke-width="0.3">$2.5B</text>
<text x="2247.09" y="678.2" font-family='"Liberation Sans", sans-serif' font-size="24" letter-spacing="0.976" fill="#94a3b8" stroke="#94a3b8" stroke-width="0.3">Institutional</text>
<text x="2247.95" y="707.3" font-family='"Liberation Sans", sans-serif' font-size="24" letter-spacing="0.635" fill="#94a3b8" stroke="#94a3b8" stroke-width="0.3">Alternative Funds</text>
<text x="2247.71" y="741.0" font-family='"Liberation Sans", sans-serif' font-size="27" letter-spacing="1.389" fill="#1e293b" stroke="#1e293b" stroke-width="0.3">$2.6B</text>
<text x="2967.73" y="742.0" font-family='"Liberation Sans", sans-serif' font-size="24" letter-spacing="0.720" fill="#94a3b8" stroke="#94a3b8" stroke-width="0.3">Private Credit</text>
<text x="2969.41" y="775.6" font-family='"Liberation Sans", sans-serif' font-size="27" letter-spacing="-0.192" fill="#1e293b" stroke="#1e293b" stroke-width="0.3">$17.5B</text>
<text x="2292.15" y="869.8" font-family='"Liberation Sans", sans-serif' font-size="24" letter-spacing="0.580" fill="#94a3b8" stroke="#94a3b8" stroke-width="0.3">US Treasury Debt</text>
<text x="2293.71" y="902.6" font-family='"Liberation Sans", sans-serif' font-size="27" letter-spacing="1.664" fill="#1e293b" stroke="#1e293b" stroke-width="0.3">$8.4B</text>
<g fill="none" stroke="#cdcdcd" stroke-width="3"><circle cx="2977.3" cy="1011" r="22"/><ellipse cx="2977.3" cy="1011" rx="11.88" ry="22"/><line x1="2977.3" y1="989" x2="2977.3" y2="1033"/><line x1="2955.3" y1="1011" x2="2999.3" y2="1011"/><path d="M2961.02 998.46 Q2977.3 1008.36 2993.58 998.46"/><path d="M2961.02 1023.54 Q2977.3 1013.64 2993.58 1023.54"/></g>
<text x="3006.25" y="1026.9" font-family='"Liberation Sans", sans-serif' font-size="64" fill="#cdcdcd">r<tspan dx="2.5">w</tspan><tspan dx="-2">a</tspan></text>
<text x="3108.81" y="1026.9" font-family='"Liberation Sans", sans-serif' font-size="24" letter-spacing="1.240" fill="#cdcdcd" stroke="#cdcdcd" stroke-width="0.3">.xyz</text>
<text x="2967.78" y="1067.6" font-family='"Liberation Sans", sans-serif' font-size="24" letter-spacing="0.494" fill="#b4b4bc" stroke="#b4b4bc" stroke-width="0.3">as of 10/10/2025</text>
<g fill="none" stroke="#0f172a" stroke-width="2.4" stroke-linecap="round" stroke-linejoin="round"><path d="M1911 321.2 V335.4"/><path d="M1905.3 330 L1911 335.8 L1916.7 330"/><path d="M1904.6 334.1 H1903.7 a2.2 2.2 0 0 0 -2.2 2.2 V339.2 a2.2 2.2 0 0 0 2.2 2.2 H1918.4 a2.2 2.2 0 0 0 2.2 -2.2 V336.3 a2.2 2.2 0 0 0 -2.2 -2.2 H1917.5"/></g><circle cx="1916.6" cy="337.8" r="1.3" fill="#0f172a"/>
</svg>
<div class="t" style="left:71.10px;top:311.54px;font-size:40px;line-height:40px;letter-spacing:-0.042px;color:#12161f;-webkit-text-stroke:0.75px #12161f;">Total RWA Value</div>
<div class="t" style="left:2214.50px;top:311.54px;font-size:40px;line-height:40px;letter-spacing:-0.078px;color:#12161f;-webkit-text-stroke:0.75px #12161f;">Total RWA Value</div>
<div class="t" style="left:1589.62px;top:318.10px;font-size:28px;line-height:28px;letter-spacing:0.471px;color:#3b82f6;-webkit-text-stroke:0.7px #3b82f6;">Include Stablecoins</div>
<div style="position:absolute;left:1865.5px;top:307px;width:217px;height:50px;box-sizing:border-box;border:2px solid #9ca3b0;border-radius:8px;box-shadow:0 2px 4px rgba(0,0,0,.10)"></div>
<div class="t" style="left:1938.13px;top:319.68px;font-size:24px;line-height:24px;letter-spacing:0.597px;color:#12161f;-webkit-text-stroke:0.6px #12161f;">Download</div>
<svg width="3224" height="1136" viewBox="0 0 3224 1136"><path d="M0 0 H2016 V1136 H0 Z M107 330 H312.5 A40 40 0 0 1 352.5 370 V432.5 A40 40 0 0 1 312.5 472.5 H107 A40 40 0 0 1 67 432.5 V370 A40 40 0 0 1 107 330 Z M362 377 A17.5 24.5 0 0 1 362 426 Z" fill="#000" fill-opacity="0.03" fill-rule="evenodd"/></svg>
<div class="t" style="left:135px;top:511px;font-size:30px;line-height:36px;letter-spacing:0.6px;color:rgba(255,255,255,.8);font-family:'Liberation Sans','Noto Sans CJK SC',sans-serif">已充电 100%</div>
</body></html>
